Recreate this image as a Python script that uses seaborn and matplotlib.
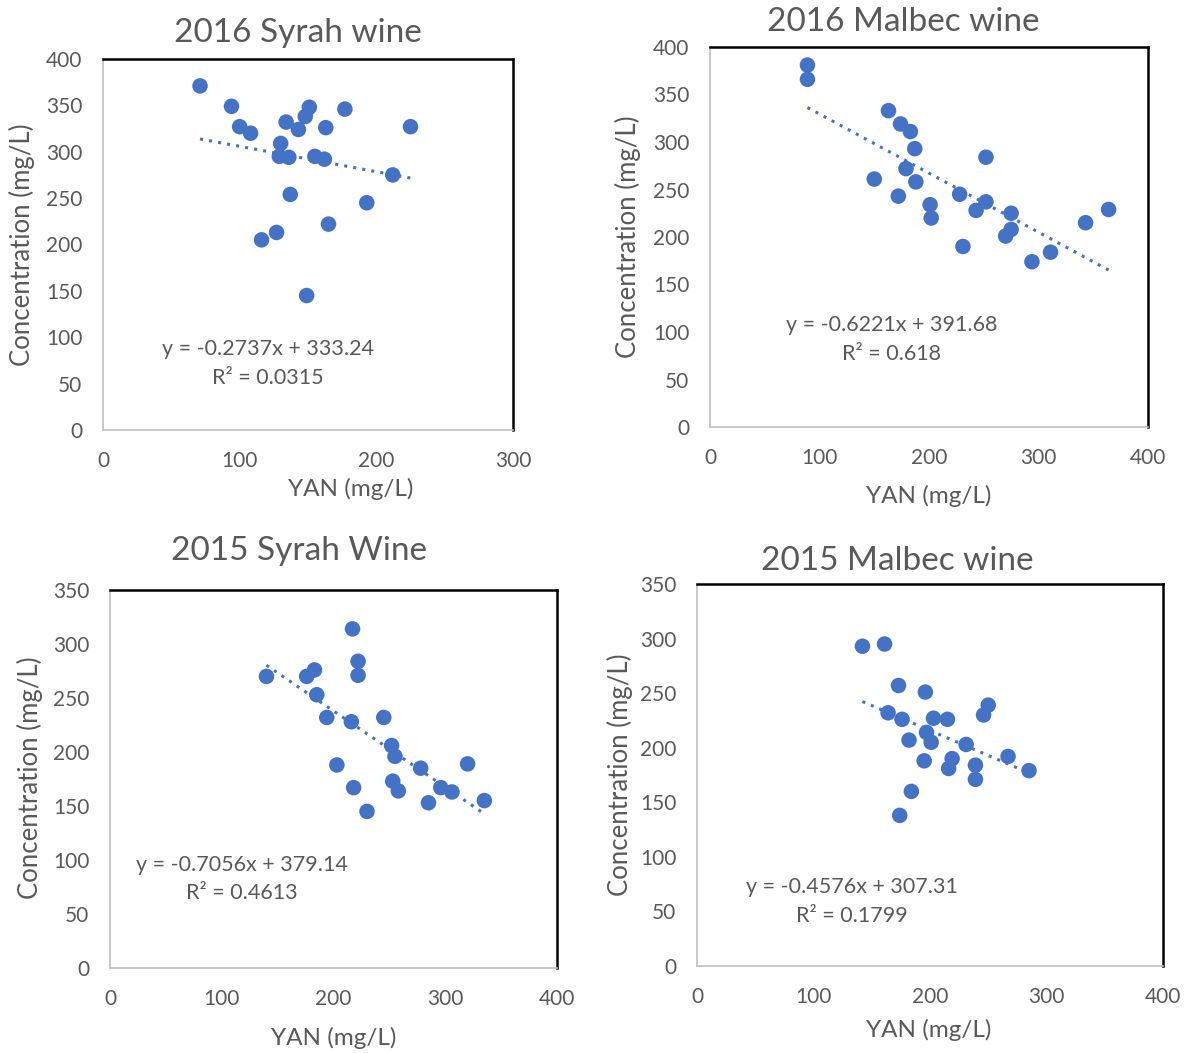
import matplotlib
matplotlib.use("Agg")
import matplotlib.pyplot as plt
import numpy as np
import pandas as pd
import seaborn as sns

# ---- data: YAN (mg/L) vs concentration (mg/L) ----
syrah16_yan = [71, 94, 100, 108, 134, 130, 129, 136, 143, 148, 151, 163, 177,
               155, 162, 225, 212, 137, 193, 165, 127, 116, 149]
syrah16_conc = [371, 349, 327, 320, 332, 309, 295, 294, 324, 338, 348, 326, 346,
                295, 292, 327, 275, 254, 245, 222, 213, 205, 145]

malbec16_yan = [89, 89, 163, 174, 183, 187, 252, 179, 150, 188, 172, 228, 201,
                252, 243, 202, 275, 275, 270, 231, 311, 294, 343, 364]
malbec16_conc = [381, 366, 333, 319, 311, 293, 284, 272, 261, 258, 243, 245, 234,
                 237, 228, 220, 225, 208, 201, 190, 184, 174, 215, 229]

syrah15_yan = [217, 222, 222, 183, 176, 140, 185, 194, 216, 245, 252, 255, 278,
               320, 203, 253, 258, 296, 306, 335, 285, 218, 230]
syrah15_conc = [314, 284, 271, 276, 270, 270, 253, 232, 228, 232, 206, 196, 185,
                189, 188, 173, 164, 167, 163, 155, 153, 167, 145]

malbec15_yan = [142, 161, 173, 196, 250, 246, 164, 176, 203, 215, 197, 201, 182,
                231, 267, 285, 219, 216, 239, 239, 195, 184, 174]
malbec15_conc = [293, 295, 257, 251, 239, 230, 232, 226, 227, 226, 214, 205, 207,
                 203, 192, 179, 190, 181, 184, 171, 188, 160, 138]

# fitted trend lines (slope, intercept, R^2)
fits = {
    "syrah16": (-0.2737, 333.24, "0.0315"),
    "malbec16": (-0.6221, 391.68, "0.618"),
    "syrah15": (-0.7056, 379.14, "0.4613"),
    "malbec15": (-0.4576, 307.31, "0.1799"),
}

titles = {
    "syrah16": "2016 Syrah wine",
    "malbec16": "2016 Malbec wine",
    "syrah15": "2015 Syrah Wine",
    "malbec15": "2015 Malbec wine",
}

x_ticks = {
    "syrah16": [0, 100, 200, 300],
    "malbec16": [0, 100, 200, 300, 400],
    "syrah15": [0, 100, 200, 300, 400],
    "malbec15": [0, 100, 200, 300, 400],
}
y_ticks = {
    "syrah16": [0, 50, 100, 150, 200, 250, 300, 350, 400],
    "malbec16": [0, 50, 100, 150, 200, 250, 300, 350, 400],
    "syrah15": [0, 50, 100, 150, 200, 250, 300, 350],
    "malbec15": [0, 50, 100, 150, 200, 250, 300, 350],
}

series = {
    "syrah16": (syrah16_yan, syrah16_conc),
    "malbec16": (malbec16_yan, malbec16_conc),
    "syrah15": (syrah15_yan, syrah15_conc),
    "malbec15": (malbec15_yan, malbec15_conc),
}

# ---- styling ----
sns.set_theme(style="white")
plt.rcParams["font.family"] = ["Lato", "DejaVu Sans"]

BLUE = "#4472C4"
GREY = "#595959"
W, H = 1186, 1053

fig = plt.figure(figsize=(W / 100, H / 100), dpi=100)
fig.patch.set_facecolor("white")

# panel boxes in pixels: left, right, top, bottom
boxes = {
    "syrah16": (103, 513, 59, 430),
    "malbec16": (710, 1148, 47, 427),
    "syrah15": (110, 557, 590, 968),
    "malbec15": (697, 1163, 584, 966),
}
title_pos = {
    "syrah16": (298, 33),
    "malbec16": (903, 22),
    "syrah15": (299, 551),
    "malbec15": (897, 561),
}
ylabel_pos = {
    "syrah16": (22, 245),
    "malbec16": (628, 237),
    "syrah15": (30, 778),
    "malbec15": (620, 775),
}
xlabel_pos = {
    "syrah16": (351, 489),
    "malbec16": (929, 496),
    "syrah15": (334, 1038),
    "malbec15": (929, 1030),
}
eq_pos = {
    "syrah16": (268, 349, 378),
    "malbec16": (892, 325, 354),
    "syrah15": (242, 865, 893),
    "malbec15": (852, 887, 916),
}


def fx(px):
    return px / W


def fy(py):
    return 1 - py / H


for key, (l, r, t, b) in boxes.items():
    ax = fig.add_axes([fx(l), fy(b), (r - l) / W, (b - t) / H])
    xs, ys = series[key]
    df = pd.DataFrame({"YAN": xs, "Conc": ys})
    sns.scatterplot(data=df, x="YAN", y="Conc", ax=ax, color=BLUE, s=125,
                    edgecolor="none", zorder=3)

    slope, icpt, r2 = fits[key]
    xl = np.array([min(xs), max(xs)], dtype=float)
    ax.plot(xl, slope * xl + icpt, color=BLUE, lw=2.2,
            linestyle=(0, (1, 2)), zorder=2)

    xt, yt = x_ticks[key], y_ticks[key]
    ax.set_xlim(xt[0], xt[-1])
    ax.set_ylim(yt[0], yt[-1])
    ax.set_xticks(xt)
    ax.set_yticks(yt)
    ax.tick_params(axis="both", length=0, labelsize=15, labelcolor=GREY, pad=15)
    ax.set_xlabel("")
    ax.set_ylabel("")
    ax.grid(False)

    for side in ("top", "right"):
        ax.spines[side].set_color("black")
        ax.spines[side].set_linewidth(1.8)
    for side in ("left", "bottom"):
        ax.spines[side].set_color("#BFBFBF")
        ax.spines[side].set_linewidth(1.2)

    tx, ty = title_pos[key]
    fig.text(fx(tx), fy(ty), titles[key], ha="center", va="center",
             fontsize=24, color=GREY)
    lx, ly = ylabel_pos[key]
    fig.text(fx(lx), fy(ly), "Concentration (mg/L)", ha="center", va="center",
             rotation=90, fontsize=18.5, color=GREY)
    lx, ly = xlabel_pos[key]
    fig.text(fx(lx), fy(ly), "YAN (mg/L)", ha="center", va="center",
             fontsize=17.5, color=GREY)

    ex, ey1, ey2 = eq_pos[key]
    fig.text(fx(ex), fy(ey1), f"y = {slope:.4f}x + {icpt:.2f}", ha="center",
             va="center", fontsize=15.5, color=GREY)
    fig.text(fx(ex), fy(ey2), f"R\u00b2 = {r2}", ha="center", va="center",
             fontsize=15.5, color=GREY)

fig.savefig("out.png", dpi=100, facecolor="white")
